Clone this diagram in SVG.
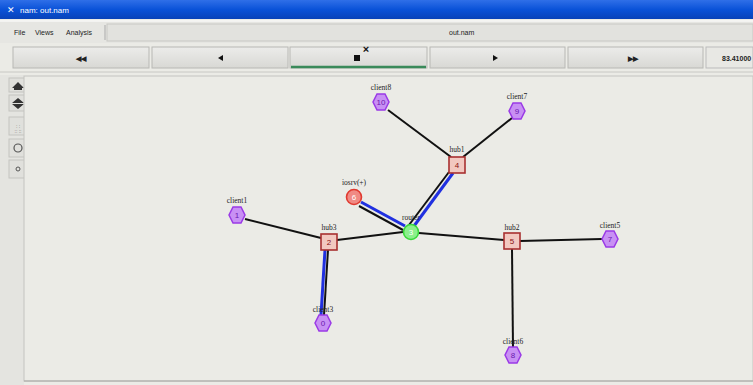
<svg xmlns="http://www.w3.org/2000/svg" width="753" height="385" viewBox="0 0 753 385">
<defs>
<linearGradient id="tb" x1="0" y1="0" x2="0" y2="1">
<stop offset="0" stop-color="#2f6fe8"/><stop offset="0.5" stop-color="#0a52d8"/><stop offset="1" stop-color="#0842b8"/>
</linearGradient>
<linearGradient id="btn" x1="0" y1="0" x2="0" y2="1">
<stop offset="0" stop-color="#ececea"/><stop offset="1" stop-color="#d8d8d4"/>
</linearGradient>
<polygon id="hx" points="-4,-8 4,-8 8,0 4,8 -4,8 -8,0"/>
</defs>
<style>
.ui{font-family:"Liberation Sans",Arial,sans-serif;font-size:7px;fill:#222}
.lbl{font-family:"Liberation Serif","Times New Roman",serif;font-size:7.5px;fill:#222;text-anchor:middle}
.num{font-family:"Liberation Sans",Arial,sans-serif;font-size:8px;text-anchor:middle}
.hex{fill:#c890f4;stroke:#9a3ae6;stroke-width:1.5}
.hexn{fill:#6a18b0}
.sq{fill:#f2c8c0;stroke:#a83030;stroke-width:1.6}
.sqn{fill:#8a1010}
.lnk{stroke:#111;stroke-width:2;fill:none}
.blu{stroke:#2030e0;stroke-width:3;fill:none}
.b{fill:url(#btn);stroke:#b8b8b4;stroke-width:1}
.ico{fill:#111}
</style>
<rect width="753" height="385" fill="#ebebe6"/>
<!-- title bar -->
<rect x="0" y="0" width="753" height="19" fill="url(#tb)"/>
<text x="7" y="13" font-family="Liberation Sans,Arial,sans-serif" font-size="9" fill="#fff">✕</text>
<text x="20" y="13" font-family="Liberation Sans,Arial,sans-serif" font-size="8" fill="#fff">nam: out.nam</text>
<!-- menu bar -->
<rect x="0" y="21" width="753" height="22" fill="#e6e6e2"/>
<line x1="0" y1="21" x2="753" y2="21" stroke="#fff"/>
<line x1="105" y1="25" x2="105" y2="40" stroke="#aaa"/>
<rect x="107" y="24" width="646" height="17" fill="#e2e2de" stroke="#c8c8c4"/>
<text class="ui" x="14" y="35">File</text>
<text class="ui" x="35" y="35">Views</text>
<text class="ui" x="66" y="35">Analysis</text>
<text class="ui" x="449" y="35">out.nam</text>
<!-- buttons -->
<rect class="b" x="13" y="47" width="136" height="21"/>
<rect class="b" x="152" y="47" width="136" height="21"/>
<rect class="b" x="290" y="47" width="137" height="21"/>
<rect class="b" x="430" y="47" width="135" height="21"/>
<rect class="b" x="568" y="47" width="135" height="21"/>
<rect x="706" y="47" width="47" height="21" fill="#e8e8e4" stroke="#bbb"/>
<line x1="291" y1="67" x2="426" y2="67" stroke="#3a8a5a" stroke-width="2.5"/>
<text class="ui" x="81" y="61" font-weight="bold" text-anchor="middle">◀◀</text>
<polygon class="ico" points="218,58 223,55 223,61"/>
<rect class="ico" x="354" y="55" width="6" height="6"/>
<text x="366" y="53" font-family="Liberation Sans,Arial,sans-serif" font-size="11" font-weight="bold" text-anchor="middle" fill="#111">×</text>
<polygon class="ico" points="493,55 498,58 493,61"/>
<text class="ui" x="633" y="61" font-weight="bold" text-anchor="middle">▶▶</text>
<text class="ui" x="722" y="61" font-size="5.5" font-weight="bold">83.41000</text>
<line x1="0" y1="72" x2="753" y2="72" stroke="#c8c8c4"/>
<!-- left toolbar -->
<rect x="0" y="75" width="24" height="310" fill="#e4e4e0"/>
<rect x="9" y="78" width="18" height="14" fill="#e0e0dc" stroke="#c4c4c0"/>
<rect x="9" y="95" width="18" height="16" fill="#e0e0dc" stroke="#c4c4c0"/>
<rect x="9" y="117" width="18" height="18" fill="#e0e0dc" stroke="#c4c4c0"/>
<rect x="9" y="139" width="18" height="18" fill="#e0e0dc" stroke="#c4c4c0"/>
<rect x="9" y="160" width="18" height="18" fill="#e0e0dc" stroke="#c4c4c0"/>
<path d="M12,88 L18,82 L24,88 Z M14,88 L22,88 L22,90 L14,90 Z" fill="#333"/>
<path d="M12,103 L18,98 L24,103 Z M12,104 L18,109 L24,104 Z" fill="#333"/>
<text x="18" y="128" font-family="Liberation Sans,Arial,sans-serif" font-size="5" fill="#555" text-anchor="middle">: :</text>
<text x="18" y="133" font-family="Liberation Sans,Arial,sans-serif" font-size="5" fill="#555" text-anchor="middle">:: ::</text>
<circle cx="18" cy="148" r="4" fill="none" stroke="#555" stroke-width="1.2"/>
<circle cx="18" cy="169" r="2" fill="none" stroke="#555" stroke-width="1"/>
<!-- canvas -->
<rect x="24" y="76" width="729" height="305" fill="#ebebe6" stroke="#c4c4c0"/>
<line x1="24" y1="381" x2="753" y2="381" stroke="#a8a8a4"/>
<!-- links -->
<g id="links">
<line class="lnk" x1="388" y1="110" x2="451" y2="157"/>
<line class="lnk" x1="512" y1="118" x2="463" y2="157"/>
<line class="blu" x1="414" y1="226" x2="453" y2="173"/>
<line class="lnk" x1="409" y1="225" x2="449" y2="172"/>
<line class="blu" x1="361" y1="202" x2="405" y2="226"/>
<line class="lnk" x1="359" y1="206" x2="403" y2="230"/>
<line class="lnk" x1="245" y1="219" x2="321" y2="238"/>
<line class="lnk" x1="337" y1="240" x2="403" y2="232"/>
<line class="lnk" x1="419" y1="233" x2="504" y2="240"/>
<line class="lnk" x1="520" y1="241" x2="602" y2="239"/>
<line class="blu" x1="325" y1="250" x2="321" y2="315"/>
<line class="lnk" x1="328" y1="250" x2="324" y2="315"/>
<line class="lnk" x1="512" y1="249" x2="513" y2="347"/>
</g>
<!-- nodes -->
<g id="n10"><text class="lbl" x="381" y="90">client8</text><use href="#hx" class="hex" x="381" y="102"/><text class="num hexn" x="381" y="105">10</text></g>
<g id="n9"><text class="lbl" x="517" y="99">client7</text><use href="#hx" class="hex" x="517" y="111"/><text class="num hexn" x="517" y="114">9</text></g>
<g id="n4"><text class="lbl" x="457" y="152">hub1</text><rect class="sq" x="449" y="157" width="16" height="16"/><text class="num sqn" x="457" y="168">4</text></g>
<g id="n6"><text class="lbl" x="354" y="185">iosrv(+)</text><circle cx="354" cy="197" r="7.5" fill="#f08a84" stroke="#e03a30" stroke-width="1.6"/><text class="num" x="354" y="200" fill="#fff">6</text></g>
<g id="n1"><text class="lbl" x="237" y="203">client1</text><use href="#hx" class="hex" x="237" y="215"/><text class="num hexn" x="237" y="218">1</text></g>
<g id="n2"><text class="lbl" x="329" y="230">hub3</text><rect class="sq" x="321" y="234" width="16" height="16"/><text class="num sqn" x="329" y="245">2</text></g>
<g id="n3"><text class="lbl" x="411" y="220">router</text><circle cx="411" cy="232" r="7.5" fill="#8cf08c" stroke="#3ad83a" stroke-width="1.6"/><text class="num" x="411" y="235" fill="#fff">3</text></g>
<g id="n5"><text class="lbl" x="512" y="230">hub2</text><rect class="sq" x="504" y="233" width="16" height="16"/><text class="num sqn" x="512" y="244">5</text></g>
<g id="n7"><text class="lbl" x="610" y="228">client5</text><use href="#hx" class="hex" x="610" y="239"/><text class="num hexn" x="610" y="242">7</text></g>
<g id="n0"><text class="lbl" x="323" y="312">client3</text><use href="#hx" class="hex" x="323" y="323"/><text class="num hexn" x="323" y="326">0</text></g>
<g id="n8"><text class="lbl" x="513" y="344">client6</text><use href="#hx" class="hex" x="513" y="355"/><text class="num hexn" x="513" y="358">8</text></g>
</svg>
